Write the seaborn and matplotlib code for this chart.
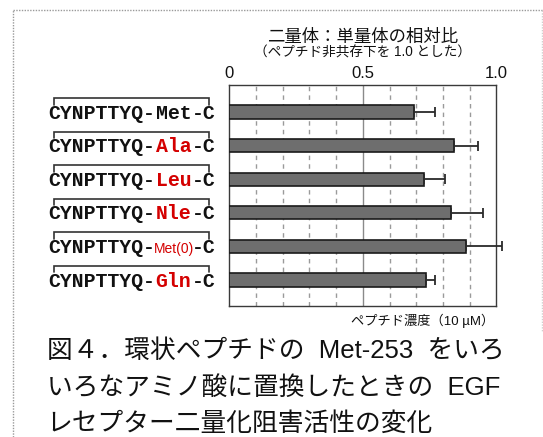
import matplotlib
matplotlib.use("Agg")
import matplotlib.pyplot as plt
import matplotlib.transforms as mtransforms
from matplotlib import font_manager
from matplotlib.lines import Line2D
import seaborn as sns
import pandas as pd
import numpy as np

# ---- data -------------------------------------------------------------
peptide_prefix = "CYNPTTYQ-"
peptide_suffix = "-C"
residues = ["Met", "Ala", "Leu", "Nle", "Met(0)", "Gln"]
residue_colors = ["#111111", "#d40000", "#d40000", "#d40000", "#d40000", "#d40000"]
ratio = [0.69, 0.842, 0.73, 0.832, 0.885, 0.735]
ratio_err = [0.08, 0.088, 0.078, 0.12, 0.137, 0.035]

x_ticks = [0, 0.5, 1.0]
x_tick_labels = ["0", "0.5", "1.0"]
grid_dashed = [0.1, 0.2, 0.3, 0.4, 0.6, 0.7, 0.8, 0.9]
grid_solid = [0.5]

title_main = "二量体：単量体の相対比"
title_sub = "（ペプチド非共存下を 1.0 とした）"
x_note = "ペプチド濃度（10 µM）"
caption_lines = [
    "図４．環状ペプチドの  Met-253  をいろ",
    "いろなアミノ酸に置換したときの  EGF",
    "レセプター二量化阻害活性の変化",
]

# ---- style ------------------------------------------------------------
sns.set_style("white")
plt.rcParams["font.family"] = ["Liberation Sans", "Noto Sans CJK JP"]

W, H = 543, 437
fig = plt.figure(figsize=(W / 100, H / 100), dpi=100)
ax = fig.add_axes([229.3 / W, 1 - 306 / H, 267 / W, (306 - 85.3) / H])

# ---- bars -------------------------------------------------------------
df = pd.DataFrame({"residue": residues, "ratio": ratio})
sns.barplot(data=df, x="ratio", y="residue", orient="h", color="#6e6e6e",
            saturation=1, width=0.4, edgecolor="#1a1a1a", linewidth=1.2,
            errorbar=None, ax=ax, zorder=3)

ypos = np.arange(len(residues))
ax.errorbar(ratio, ypos, xerr=[np.zeros(len(ratio)), ratio_err], fmt="none",
            ecolor="#2a2a2a", elinewidth=1.3, capsize=3.5, capthick=1.3,
            zorder=4, clip_on=False)

for g in grid_dashed:
    ax.axvline(g, color="#9a9a9a", lw=1, ls=(0, (3.2, 3.0)), zorder=1)
for g in grid_solid:
    ax.axvline(g, color="#8a8a8a", lw=1, zorder=1)

# ---- peptide labels ---------------------------------------------------
names = {f.name for f in font_manager.fontManager.ttflist}
narrow_family = "Liberation Sans Narrow" if "Liberation Sans Narrow" in names else "Liberation Sans"
narrow_size = 11 if narrow_family == "Liberation Sans Narrow" else 10

mono_size = 14.3
mono = dict(family="Liberation Mono", weight="bold", size=mono_size)
char_pt = 0.6 * mono_size
start_pt = (48.5 - 229.3) * 0.72
ax_w_pt = ax.get_position().width * (W / 100) * 72
trans = mtransforms.blended_transform_factory(ax.transAxes, ax.transData)
xl = (start_pt + 0.5 * char_pt) / ax_w_pt
xr = (start_pt + 13.5 * char_pt) / ax_w_pt

for i, (res, col) in enumerate(zip(residues, residue_colors)):
    yb = i + 0.2
    common = dict(xy=(0, yb), xycoords=("axes fraction", "data"),
                  textcoords="offset points", va="baseline")
    ax.annotate(peptide_prefix, xytext=(start_pt, 0), ha="left",
                color="#111111", **common, **mono)
    mid_pt = start_pt + 9 * char_pt
    if len(res) > 3:
        ax.annotate(res, xytext=(mid_pt + 1.5 * char_pt, 0), ha="center",
                    color=col, family=narrow_family, size=narrow_size, **common)
    else:
        ax.annotate(res, xytext=(mid_pt, 0), ha="left", color=col,
                    **common, **mono)
    ax.annotate(peptide_suffix, xytext=(start_pt + 12 * char_pt, 0), ha="left",
                color="#111111", **common, **mono)
    # disulfide bracket joining the two cysteines
    ax.add_line(Line2D([xl, xl, xr, xr], [i - 0.22, i - 0.42, i - 0.42, i - 0.22],
                       transform=trans, color="#333333", lw=1.2, clip_on=False,
                       solid_joinstyle="miter"))

# ---- axes -------------------------------------------------------------
ax.set_xlim(0, 1.0)
ax.set_ylim(5.78, -0.8)
ax.xaxis.tick_top()
ax.set_xticks(x_ticks, x_tick_labels)
ax.tick_params(axis="x", length=0, pad=3, labelsize=12, colors="#111111")
ax.set_yticks([])
ax.set_xlabel("")
ax.set_ylabel("")
for s in ax.spines.values():
    s.set_color("#3a3a3a")
    s.set_linewidth(1.0)

# ---- titles and notes -------------------------------------------------
cx = 362.7 / W
fig.text(cx, 1 - 42 / H, title_main, ha="center", va="baseline", fontsize=12.5, color="#111111")
fig.text(cx, 1 - 56.5 / H, title_sub, ha="center", va="baseline", fontsize=9.8, color="#111111")
fig.text(494 / W, 1 - 325.5 / H, x_note, ha="right", va="baseline", fontsize=9.5, color="#111111")

for line, base in zip(caption_lines, [358, 394.5, 431]):
    fig.text(46.7 / W, 1 - base / H, line, ha="left", va="baseline",
             fontsize=18.5, color="#111111")

# ---- dotted frame -----------------------------------------------------
fig.add_artist(Line2D([13.3 / W, 13.3 / W], [0, 1 - 10 / H], transform=fig.transFigure,
                      color="#9a9a9a", lw=1, ls=(0, (1, 1))))
fig.add_artist(Line2D([13.3 / W, 1], [1 - 10 / H, 1 - 10 / H], transform=fig.transFigure,
                      color="#9a9a9a", lw=1, ls=(0, (1, 1))))
fig.add_artist(Line2D([541.7 / W, 541.7 / W], [1 - 10 / H, 1 - 331 / H], transform=fig.transFigure,
                      color="#d0d0d0", lw=1, ls=(0, (1, 1))))

fig.savefig("out.png", dpi=100)
